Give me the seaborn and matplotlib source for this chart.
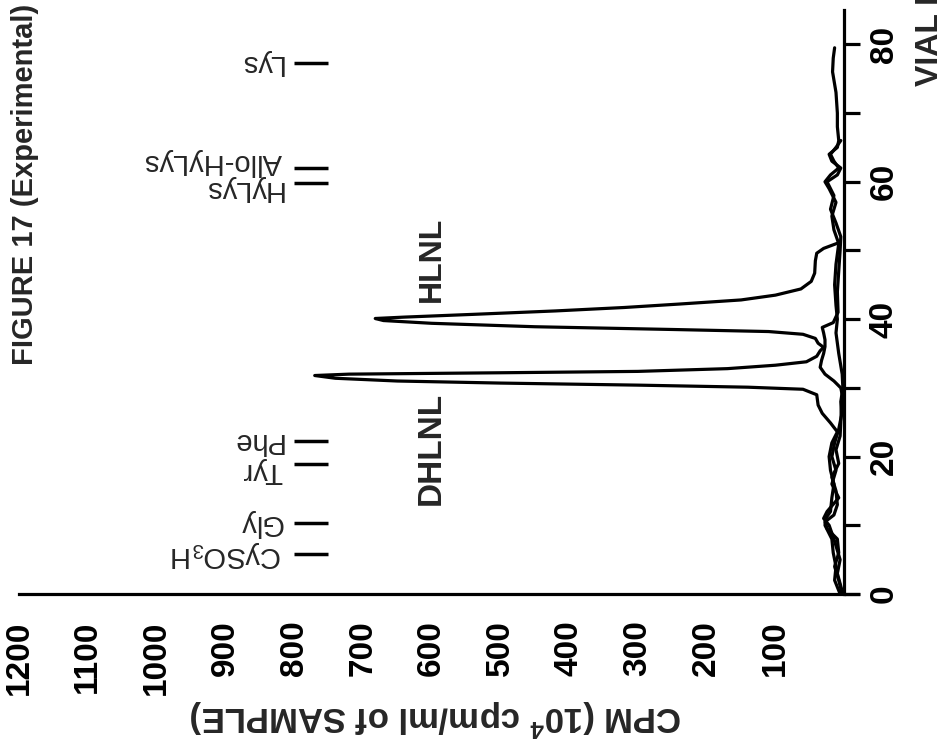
import matplotlib
matplotlib.use("Agg")
import matplotlib.pyplot as plt
import numpy as np
import pandas as pd
import seaborn as sns

# ---------------- data ----------------
vial_main = [0, 2, 4, 6, 8, 10, 11, 12, 14, 16, 18, 20, 22, 23.6, 24.9, 26.3, 27.5, 29.0, 29.8, 30.1,
             30.4, 30.7, 31.0, 31.4, 31.8, 32.0, 32.2, 32.4, 32.8, 33.3, 33.8, 34.6, 35.4, 35.9, 36.5,
             37.2, 37.8, 38.2, 38.5, 38.9, 39.4, 39.8, 40.1, 40.3, 40.7, 41.2, 41.7, 42.2, 42.8, 43.5,
             44.4, 45.5, 46.7, 48.5, 49.6, 50.3, 51.2]
cpm_main = [6, 14, 12, 16, 18, 28, 27, 20, 18, 15, 20, 22, 18, 10, 20, 32, 38, 40, 60, 140,
            300, 500, 650, 740, 770, 720, 500, 300, 170, 100, 55, 40, 35, 30, 38,
            42, 60, 110, 250, 450, 600, 670, 682, 640, 540, 420, 320, 240, 150, 100,
            63, 48, 43, 42, 40, 30, 6]

vial_b = [0, 2, 4, 6, 8, 9.5, 10.5, 11.5, 13, 15, 17, 19, 21, 23, 25, 27, 29, 30, 31, 32,
          33, 34, 35, 36, 37, 38, 38.8, 39.5, 41, 44, 47, 50, 52, 54, 56, 58, 60, 61, 62, 63,
          64, 65, 66, 68, 70, 73, 76, 78, 79.5]
cpm_b = [3, 8, 14, 8, 10, 25, 28, 15, 10, 12, 18, 8, 12, 6, 5, 4, 3, 5, 15, 28,
         35, 33, 30, 28, 28, 30, 32, 16, 9, 10, 8, 6, 5, 12, 20, 15, 25, 10, 5, 18,
         22, 10, 8, 10, 10, 12, 17, 16, 14]

vial_c = [0, 3, 5, 8, 10, 11, 12, 14, 16, 18, 20, 22, 24, 26, 28, 30, 32, 35, 38, 40,
          42, 45, 48, 51, 53, 55, 57, 59, 60, 61, 62, 63, 64, 65, 66]
cpm_c = [2, 10, 6, 15, 22, 30, 25, 8, 18, 12, 18, 14, 8, 4, 5, 2, 3, 8, 12, 10,
         12, 14, 12, 8, 15, 18, 12, 22, 28, 20, 8, 15, 20, 12, 5]

amino_names = ["CySO$_3$H", "Gly", "Tyr", "Phe", "HyLys", "Allo-HyLys", "Lys"]
amino_vials = [5.8, 10.3, 18.9, 22.2, 59.8, 62.0, 77.3]

peak_names = ["DHLNL", "HLNL"]
peak_vials = [12.9, 42.5]

cpm_ticks = [100, 200, 300, 400, 500, 600, 700, 800, 900, 1000, 1100, 1200]
vial_ticks = [0, 10, 20, 30, 40, 50, 60, 70, 80]
vial_tick_labels = ["0", "", "20", "", "40", "", "60", "", "80"]

# ---------------- frame ----------------
df = pd.concat([
    pd.DataFrame({"vial": vial_main, "cpm": cpm_main, "trace": "main"}),
    pd.DataFrame({"vial": vial_b, "cpm": cpm_b, "trace": "b"}),
    pd.DataFrame({"vial": vial_c, "cpm": cpm_c, "trace": "c"}),
], ignore_index=True)

sns.set_style("white")
plt.rcParams["font.family"] = ["Liberation Sans", "DejaVu Sans"]
plt.rcParams["font.weight"] = "bold"
plt.rcParams["mathtext.fontset"] = "custom"
plt.rcParams["mathtext.rm"] = "Liberation Sans:bold"
plt.rcParams["mathtext.default"] = "regular"

W, H = 949, 748
fig = plt.figure(figsize=(W / 100, H / 100), dpi=100)
fig.patch.set_facecolor("white")
ax = fig.add_axes([19 / W, 154 / H, (858 - 19) / W, 584 / H])
ax.set_facecolor("white")

sns.lineplot(data=df, x="cpm", y="vial", hue="trace", units=None, estimator=None,
             sort=True, orient="y", palette={"main": "black", "b": "black", "c": "black"},
             legend=False, lw=2.3, ax=ax, solid_joinstyle="round", solid_capstyle="round")

ax.set_xlim(1200, -20)
ax.set_ylim(0, 85)

for s in ["top", "left"]:
    ax.spines[s].set_visible(False)
ax.spines["right"].set_position(("data", 0))
for s in ["right", "bottom"]:
    ax.spines[s].set_linewidth(2.3)
    ax.spines[s].set_color("black")

ax.yaxis.set_ticks_position("right")
ax.yaxis.set_label_position("right")
ax.set_yticks(vial_ticks)
ax.set_yticklabels(vial_tick_labels)
ax.set_xticks(cpm_ticks)
ax.set_xticklabels([str(t) for t in cpm_ticks])
ax.tick_params(axis="x", direction="out", length=13, width=2.3, pad=6, labelsize=24,
               labelrotation=90, colors="black")
ax.tick_params(axis="y", direction="out", length=11.5, width=2.3, pad=6, labelsize=24,
               labelrotation=90, colors="black")
for lab in ax.get_yticklabels():
    lab.set_va("center")
ax.set_xlabel("")
ax.set_ylabel("")

# amino acid markers
label_shift = {"Allo-HyLys": 0.9, "HyLys": -0.8, "Tyr": -1.0}
for name, v in zip(amino_names, amino_vials):
    ax.hlines(v, 750, 800, color="black", lw=2.5)
    ax.text(817, v + label_shift.get(name, 0), name, rotation=180, ha="right", va="center",
            fontsize=21, fontweight="normal")

for name, v, fs in zip(peak_names, peak_vials, [24, 23]):
    ax.text(600, v, name, rotation=90, ha="center", va="bottom", fontsize=fs)

fig.text(25 / W, (H - 365) / H, "FIGURE 17 (Experimental)", rotation=90,
         ha="center", va="bottom", fontsize=21)
fig.text(930 / W, (H - 86) / H, "VIAL No.", rotation=90, ha="center", va="bottom",
         fontsize=23)
fig.text(436 / W, (H - 718) / H, "CPM (10$^4$ cpm/ml of SAMPLE)", rotation=180,
         ha="center", va="center", fontsize=25)

fig.savefig("out.png", dpi=100, facecolor="white")
